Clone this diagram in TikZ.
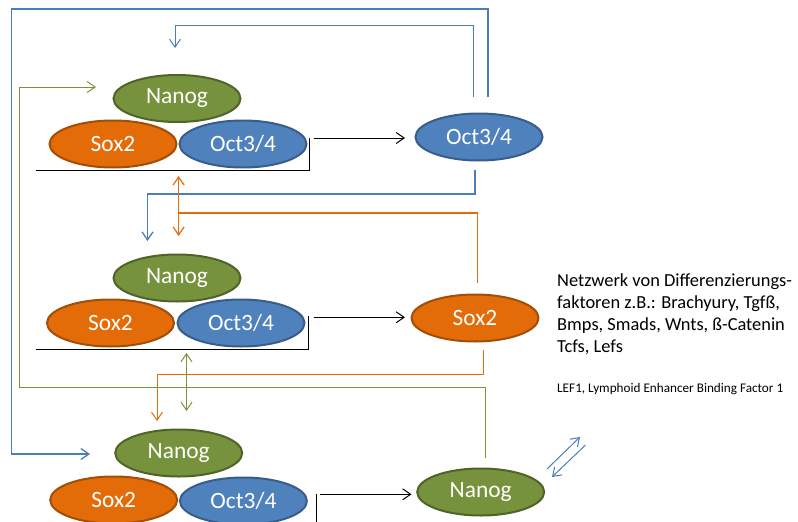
\documentclass[tikz,border=0pt]{standalone}
\usepackage{fontspec}
\setmainfont{Carlito}
\usetikzlibrary{shapes.geometric,arrows.meta}
\definecolor{gfill}{RGB}{118,146,60}
\definecolor{gdraw}{RGB}{80,99,40}
\definecolor{ofill}{RGB}{227,108,9}
\definecolor{odraw}{RGB}{160,78,8}
\definecolor{bfill}{RGB}{79,129,189}
\definecolor{bdraw}{RGB}{56,93,138}
\definecolor{bline}{RGB}{74,126,187}
\definecolor{oline}{RGB}{228,108,10}
\definecolor{gline}{RGB}{119,147,60}
\tikzset{
  ell/.style={ellipse, line width=2pt, inner sep=0pt, text=white,
    font=\fontsize{23.4}{26}\selectfont, minimum width=127pt, minimum height=47pt},
  nanog/.style={ell, fill=gfill, draw=gdraw},
  sox/.style={ell, fill=ofill, draw=odraw},
  oct/.style={ell, fill=bfill, draw=bdraw},
  bconn/.style={draw=bline, line width=1pt},
  oconn/.style={draw=oline, line width=1pt},
  gconn/.style={draw=gline, line width=1pt},
  kconn/.style={draw=black, line width=1pt},
}
\begin{document}
\begin{tikzpicture}[x=1pt,y=-1pt,>={Straight Barb[length=8pt,width=11pt]}]
\useasboundingbox (0,0) rectangle (798,522);

% ---- top group
\node[nanog] (n1) at (177,98.5) {Nanog};
\node[sox]   (s1) at (113,144) {Sox2};
\node[oct]   (o1) at (243,144) {Oct3/4};
\node[oct]   (O)  at (479,137) {Oct3/4};
% ---- middle group
\node[nanog] (n2) at (177,278) {Nanog};
\node[sox]   (s2) at (110.5,323) {Sox2};
\node[oct]   (o2) at (241,323) {Oct3/4};
\node[sox]   (S)  at (475,318) {Sox2};
% ---- bottom group
\node[nanog] (n3) at (178.7,453) {Nanog};
\node[sox]   (s3) at (113.7,500) {Sox2};
\node[oct]   (o3) at (243.4,501) {Oct3/4};
\node[nanog] (N)  at (480.7,492) {Nanog};

% ---- brackets and black arrows
\coordinate (u1a) at (36,170);  \coordinate (u1b) at (309,170); \coordinate (u1c) at (309,138);
\draw[kconn] (u1a) -- (u1b) -- (u1c);
\coordinate (a1s) at (313.6,138); \coordinate (a1e) at (405,138);
\draw[kconn,->] (a1s) -- (a1e);

\coordinate (u2a) at (36,349);  \coordinate (u2b) at (308,349); \coordinate (u2c) at (308,316);
\draw[kconn] (u2a) -- (u2b) -- (u2c);
\coordinate (a2s) at (313.6,317.3); \coordinate (a2e) at (405,317.3);
\draw[kconn,->] (a2s) -- (a2e);

\coordinate (u3b) at (316,524); \coordinate (u3c) at (316,494);
\draw[kconn] (u3b) -- (u3c);
\coordinate (a3s) at (320,494.3); \coordinate (a3e) at (411.5,494.3);
\draw[kconn,->] (a3s) -- (a3e);

% ---- blue connectors
\coordinate (b1a) at (488,97); \coordinate (b1b) at (488,9);
\coordinate (b1c) at (11.8,9); \coordinate (b1d) at (11.8,454); \coordinate (b1e) at (90,454);
\draw[bconn,line width=1.3pt,->] (b1a) -- (b1b) -- (b1c) -- (b1d) -- (b1e);

\coordinate (b2a) at (473.6,97); \coordinate (b2b) at (473.6,25);
\coordinate (b2c) at (175,25); \coordinate (b2d) at (175,48);
\draw[bconn,->] (b2a) -- (b2b) -- (b2c) -- (b2d);

\coordinate (b3a) at (475,170); \coordinate (b3b) at (475,194);
\coordinate (b3c) at (147.5,194); \coordinate (b3d) at (147.5,241);
\draw[bconn,line width=1.3pt,->] (b3a) -- (b3b) -- (b3c) -- (b3d);

% ---- orange connectors
\coordinate (o4a) at (178.6,176); \coordinate (o4b) at (178.6,236);
\draw[oconn,line width=1.2pt,<->] (o4a) -- (o4b);

\coordinate (o5a) at (477.5,283); \coordinate (o5b) at (477.5,212.7); \coordinate (o5c) at (178.6,212.7);
\draw[oconn,line width=1.8pt] (o5a) -- (o5b) -- (o5c);

\coordinate (o6a) at (483,350); \coordinate (o6b) at (483,374);
\coordinate (o6c) at (157,374); \coordinate (o6d) at (157,421);
\draw[oconn,->] (o6a) -- (o6b) -- (o6c) -- (o6d);

% ---- green connectors
\coordinate (g7a) at (186.5,353); \coordinate (g7b) at (186.5,411);
\draw[gconn,<->] (g7a) -- (g7b);

\coordinate (g8a) at (485,458); \coordinate (g8b) at (485,387);
\coordinate (g8c) at (19,387); \coordinate (g8d) at (19,87); \coordinate (g8e) at (96,87);
\draw[gconn,->] (g8a) -- (g8b) -- (g8c) -- (g8d) -- (g8e);

% ---- blue diagonal pair
\coordinate (d1a) at (547,469); \coordinate (d1b) at (580,437);
\draw[bconn,->] (d1a) -- (d1b);
\coordinate (d2a) at (585.5,445); \coordinate (d2b) at (552,477);
\draw[bconn,->] (d2a) -- (d2b);

% ---- texts
\node[anchor=base west, align=left, inner sep=0pt, font=\fontsize{18.4}{22}\selectfont] (txt) at (557,352.7)
 {Netzwerk von Differenzierungs-\\faktoren z.B.: Brachyury, Tgfß,\\Bmps, Smads, Wnts, ß-Catenin\\Tcfs, Lefs};
\node[anchor=base west, inner sep=0pt, font=\fontsize{13.2}{16}\selectfont] (lef) at (557,392.3)
 {LEF1, Lymphoid Enhancer Binding Factor 1};
\end{tikzpicture}
\end{document}
